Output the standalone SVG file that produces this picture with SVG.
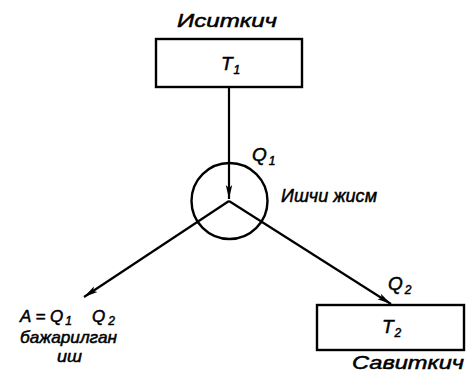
<svg xmlns="http://www.w3.org/2000/svg" width="468" height="377" viewBox="0 0 468 377">
<defs>
<marker id="ah" viewBox="0 0 14 8" refX="14" refY="4" markerWidth="14" markerHeight="8" markerUnits="userSpaceOnUse" orient="auto">
<path d="M0,0.8 L14,4 L0,7.2 L3,4 Z" fill="#000"/>
</marker>
<style>
text{font-family:"Liberation Sans",Arial,sans-serif;font-style:italic;font-size:19px;fill:#000;stroke:#000;stroke-width:0.5}
.sm{font-size:17px}
.sub{font-size:12px}
.box{fill:#fff;stroke:#000;stroke-width:2.4}
.ln{stroke:#000;stroke-width:2.2;fill:none}
</style>
</defs>
<rect width="468" height="377" fill="#fff"/>
<g id="connectors">
<line class="ln" x1="229" y1="87" x2="229" y2="199" marker-end="url(#ah)"/>
<line class="ln" x1="229" y1="201" x2="84" y2="297" marker-end="url(#ah)"/>
<line class="ln" x1="229" y1="201" x2="391" y2="304" marker-end="url(#ah)"/>
</g>
<g id="heater">
<text x="177" y="27" textLength="100" lengthAdjust="spacingAndGlyphs">Иситкич</text>
<rect class="box" x="156" y="39" width="146" height="48"/>
<text x="221" y="70">T<tspan class="sub" dx="1" dy="4">1</tspan></text>
</g>
<g id="body">
<circle cx="229.5" cy="201" r="38" fill="none" stroke="#000" stroke-width="2.4"/>
<text x="252" y="161">Q<tspan class="sub" dx="2" dy="4">1</tspan></text>
<text x="281" y="202" textLength="96" lengthAdjust="spacingAndGlyphs">Ишчи жисм</text>
</g>
<g id="cooler">
<text x="388" y="290">Q<tspan class="sub" dx="2" dy="4">2</tspan></text>
<rect class="box" x="317" y="305" width="147" height="45"/>
<text x="382" y="333">T<tspan class="sub" dx="1" dy="4">2</tspan></text>
<text x="352" y="369" textLength="112" lengthAdjust="spacingAndGlyphs">Савиткич</text>
</g>
<g id="work">
<text class="sm" x="20" y="322">A = Q<tspan class="sub" dx="2" dy="3">1</tspan><tspan dx="20" dy="-3">Q</tspan><tspan class="sub" dx="3" dy="3">2</tspan></text>
<text class="sm" x="20" y="343" textLength="97" lengthAdjust="spacingAndGlyphs">бажарилган</text>
<text class="sm" x="57" y="362" textLength="25" lengthAdjust="spacingAndGlyphs">иш</text>
</g>
</svg>
